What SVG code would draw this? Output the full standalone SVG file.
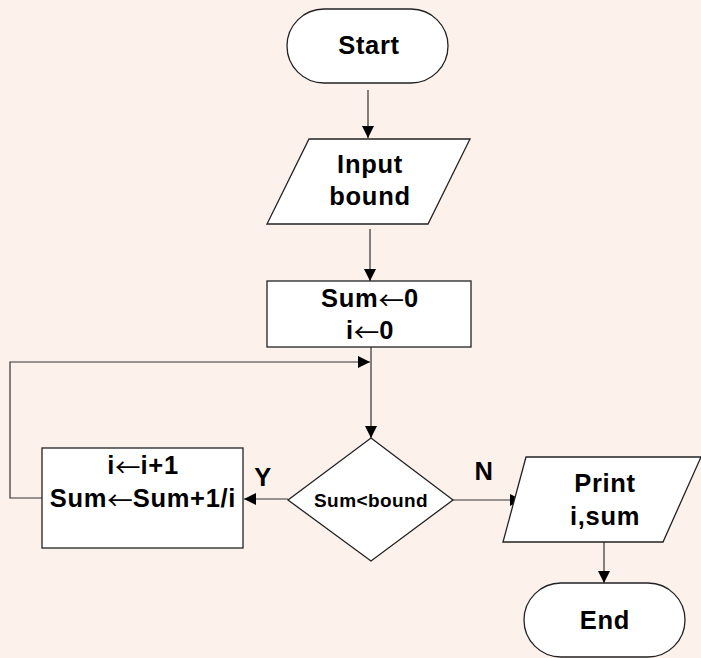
<svg xmlns="http://www.w3.org/2000/svg" width="701" height="658" viewBox="0 0 701 658">
  <defs>
    <marker id="arrow" viewBox="0 0 10 10" refX="10" refY="5" markerWidth="14" markerHeight="12" markerUnits="userSpaceOnUse" orient="auto">
      <path d="M0,0 L10,5 L0,10 Z" fill="#000"/>
    </marker>
    <style>
      .shape { fill: #ffffff; stroke: #222; stroke-width: 1.3; }
      .edge { fill: none; stroke: #333; stroke-width: 1.2; marker-end: url(#arrow); }
      text { font-family: "Liberation Sans", Arial, sans-serif; font-weight: bold; fill: #000; text-anchor: middle; dominant-baseline: central; }
      .big { font-size: 25.5px; letter-spacing: 0.7px; }
      .small { font-size: 19px; letter-spacing: 0.4px; }
      .arr { font-family: "Noto Sans CJK SC", "DejaVu Sans", sans-serif; font-weight: normal; letter-spacing: 0; }
    </style>
  </defs>
  <rect width="701" height="658" fill="#fdf1ec"/>

  <g id="connectors">
    <line class="edge" x1="368" y1="90" x2="368" y2="138"/>
    <line class="edge" x1="370" y1="229" x2="370" y2="281"/>
    <line class="edge" x1="371" y1="347" x2="371" y2="438"/>
    <polyline class="edge" points="42,498 10,498 10,362 370,362"/>
    <line class="edge" x1="288" y1="499" x2="244" y2="499"/>
    <line class="edge" x1="453" y1="500" x2="522" y2="500"/>
    <line class="edge" x1="604" y1="542" x2="604" y2="583"/>
    <text class="big" x="263" y="477">Y</text>
    <text class="big" x="484" y="471">N</text>
  </g>

  <g id="start">
    <rect class="shape" x="287" y="9" width="161" height="74" rx="37" ry="37"/>
    <text class="big" x="369" y="45">Start</text>
  </g>

  <g id="input">
    <polygon class="shape" points="309,139 470,139 428,224 267,224"/>
    <text class="big" x="370" y="164">Input</text>
    <text class="big" x="370" y="196">bound</text>
  </g>

  <g id="init">
    <rect class="shape" x="267" y="281" width="204" height="66"/>
    <text class="big" x="370" y="298">Sum<tspan class="arr">←</tspan>0</text>
    <text class="big" x="370" y="330">i<tspan class="arr">←</tspan>0</text>
  </g>

  <g id="cond">
    <polygon class="shape" points="371,438 453,500 371,561 288,500"/>
    <text class="small" x="371" y="500">Sum&lt;bound</text>
  </g>

  <g id="update">
    <rect class="shape" x="42" y="448" width="201" height="100"/>
    <text class="big" x="143" y="465">i<tspan class="arr">←</tspan>i+1</text>
    <text class="big" x="143" y="498">Sum<tspan class="arr">←</tspan>Sum+1/i</text>
  </g>

  <g id="print">
    <polygon class="shape" points="526,457 701,457 663,542 503,542"/>
    <text class="big" x="605" y="483">Print</text>
    <text class="big" x="605" y="516">i,sum</text>
  </g>

  <g id="end">
    <rect class="shape" x="524" y="583" width="161" height="74" rx="37" ry="37"/>
    <text class="big" x="605" y="620">End</text>
  </g>
</svg>
